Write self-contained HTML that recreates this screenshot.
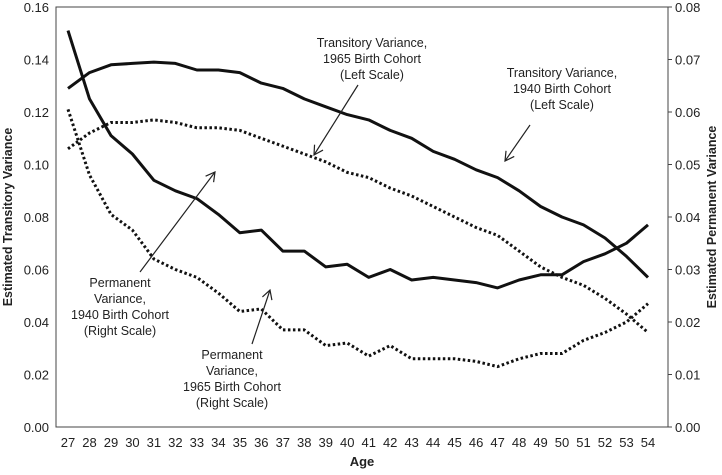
<!DOCTYPE html>
<html><head><meta charset="utf-8"><style>
body{margin:0;background:#fff}
svg text{font-family:"Liberation Sans",Arial,sans-serif;fill:#222}
</style></head><body>
<svg id="c" width="722" height="470" viewBox="0 0 722 470">
<defs><marker id="ah" markerWidth="12" markerHeight="12" refX="10" refY="6" orient="auto" markerUnits="userSpaceOnUse"><path d="M1,1 L10,6 L1,11" fill="none" stroke="#222" stroke-width="1.2"/></marker></defs>
<g id="axes"></g><g id="series"></g>
<g font-size="12.5" text-anchor="middle">
<text x="372" y="47">Transitory Variance,</text><text x="372" y="63">1965 Birth Cohort</text><text x="372" y="79">(Left Scale)</text>
<line x1="358" y1="85" x2="314" y2="155" stroke="#222" stroke-width="1.2" marker-end="url(#ah)"/>
<text x="562" y="77">Transitory Variance,</text><text x="562" y="93">1940 Birth Cohort</text><text x="562" y="109">(Left Scale)</text>
<line x1="530" y1="125" x2="505" y2="161" stroke="#222" stroke-width="1.2" marker-end="url(#ah)"/>
<text x="120" y="287">Permanent</text><text x="120" y="303">Variance,</text><text x="120" y="319">1940 Birth Cohort</text><text x="120" y="335">(Right Scale)</text>
<line x1="140" y1="272" x2="215" y2="172" stroke="#222" stroke-width="1.2" marker-end="url(#ah)"/>
<text x="232" y="359">Permanent</text><text x="232" y="375">Variance,</text><text x="232" y="391">1965 Birth Cohort</text><text x="232" y="407">(Right Scale)</text>
<line x1="252" y1="344" x2="270" y2="290" stroke="#222" stroke-width="1.2" marker-end="url(#ah)"/>
</g>
</svg>
<script>
const ages=[27,28,29,30,31,32,33,34,35,36,37,38,39,40,41,42,43,44,45,46,47,48,49,50,51,52,53,54];
const leftTicks=["0.00","0.02","0.04","0.06","0.08","0.10","0.12","0.14","0.16"];
const rightTicks=["0.00","0.01","0.02","0.03","0.04","0.05","0.06","0.07","0.08"];
const trans1940=[0.129,0.135,0.138,0.1385,0.139,0.1385,0.136,0.136,0.135,0.131,0.129,0.125,0.122,0.119,0.117,0.113,0.110,0.105,0.102,0.098,0.095,0.090,0.084,0.080,0.077,0.072,0.065,0.057];
const trans1965=[0.106,0.112,0.116,0.116,0.117,0.116,0.114,0.114,0.113,0.110,0.107,0.104,0.101,0.097,0.095,0.091,0.088,0.084,0.080,0.076,0.073,0.067,0.061,0.057,0.054,0.049,0.043,0.036];
const perm1940=[0.0755,0.0625,0.0555,0.052,0.047,0.045,0.0435,0.0405,0.037,0.0375,0.0335,0.0335,0.0305,0.031,0.0285,0.030,0.028,0.0285,0.028,0.0275,0.0265,0.028,0.029,0.029,0.0315,0.033,0.035,0.0385];
const perm1965=[0.0605,0.048,0.0405,0.0375,0.032,0.030,0.0285,0.0255,0.022,0.0225,0.0185,0.0185,0.0155,0.016,0.0135,0.0155,0.013,0.013,0.013,0.0125,0.0115,0.013,0.014,0.014,0.0165,0.018,0.020,0.0235];
const L=56,R=668,T=7,B=427;
const x=i=>68+i*21.48;
const yL=v=>B-(v/0.16)*(B-T);
const yR=v=>B-(v/0.08)*(B-T);
const NS="http://www.w3.org/2000/svg";
const ax=document.getElementById('axes'),se=document.getElementById('series');
function mk(tag,at,par,txt){const e=document.createElementNS(NS,tag);for(const k in at)e.setAttribute(k,at[k]);if(txt!=null)e.textContent=txt;par.appendChild(e);return e;}
const frame=mk('rect',{x:L,y:T,width:R-L,height:B-T,fill:'none',stroke:'#444','stroke-width':1},ax);


leftTicks.forEach((t,i)=>{const e=mk('text',{x:49,y:yL(i*0.02)+5,'text-anchor':'end','font-size':13},ax,t);

});
rightTicks.forEach((t,i)=>{mk('line',{x1:R,x2:R+4,y1:yR(i*0.01),y2:yR(i*0.01),stroke:'#444'},ax);
const e=mk('text',{x:675,y:yR(i*0.01)+5,'font-size':13},ax,t);

});
ages.forEach((a,i)=>{const e=mk('text',{x:x(i),y:447,'text-anchor':'middle','font-size':13},ax,a);

});
let e=mk('text',{x:362,y:466,'text-anchor':'middle','font-size':13,'font-weight':'bold'},ax,'Age');


e=mk('text',{transform:'translate(12,217) rotate(-90)','text-anchor':'middle','font-size':12.5,'font-weight':'bold'},ax,'Estimated Transitory Variance');


e=mk('text',{transform:'translate(716,217) rotate(-90)','text-anchor':'middle','font-size':12.5,'font-weight':'bold'},ax,'Estimated Permanent Variance');


function line(vals,yf,dash,name){const p=vals.map((v,i)=>x(i).toFixed(1)+','+yf(v).toFixed(1)).join(' ');
const l=mk('polyline',{points:p,fill:'none',stroke:'#111','stroke-width':dash?3:3,'stroke-dasharray':dash?'2.5 2.5':'none','stroke-linejoin':'round'},se);

}
line(trans1940,yL,false,'transitory-1940-line');
line(trans1965,yL,true,'transitory-1965-line');
line(perm1940,yR,false,'permanent-1940-line');
line(perm1965,yR,true,'permanent-1965-line');
</script>
</body></html>
